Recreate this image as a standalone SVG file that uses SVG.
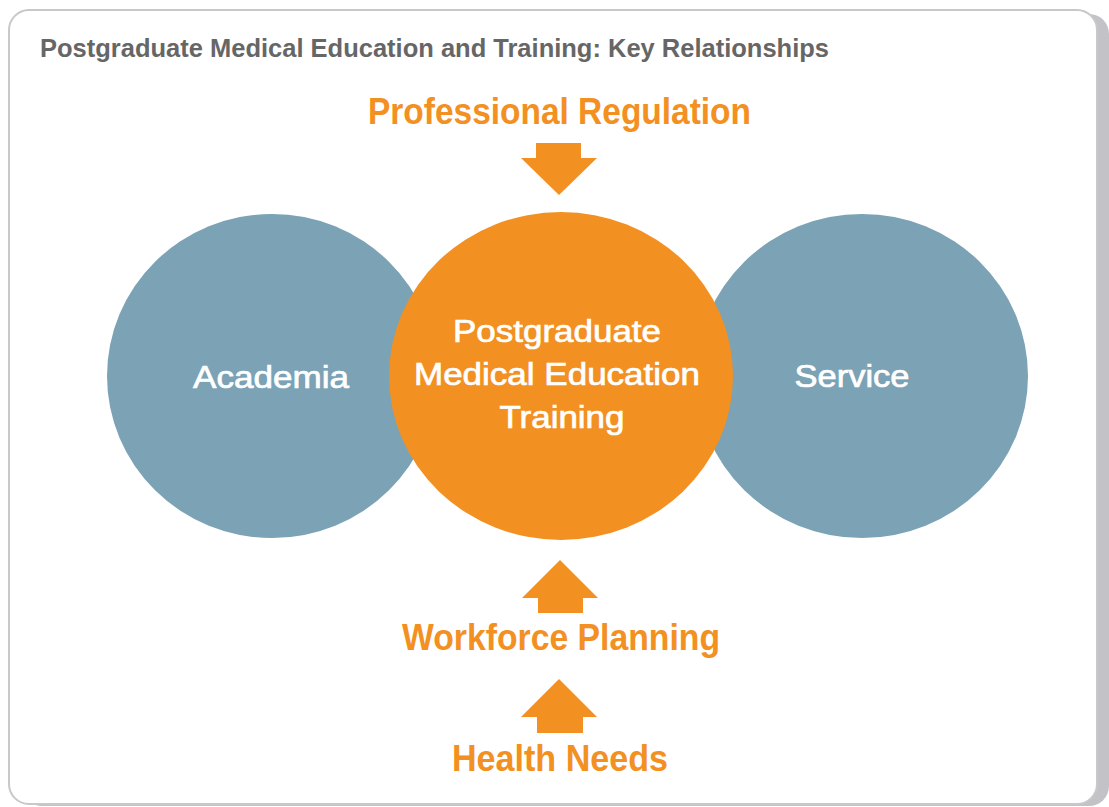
<svg xmlns="http://www.w3.org/2000/svg" width="1109" height="807" viewBox="0 0 1109 807">
<defs>
<style>
.orange{fill:#f39022}
.blue{fill:#7ba2b5}
.lbl{font-family:"Liberation Sans",Arial,sans-serif;font-weight:bold;fill:#f39022;font-size:36px;text-anchor:middle}
.wt{font-family:"Liberation Sans",Arial,sans-serif;fill:#ffffff;stroke:#ffffff;stroke-width:0.7;font-size:31px;text-anchor:middle}
</style>
</defs>
<rect width="1109" height="807" fill="#ffffff"/>
<g id="frame">
<rect x="22" y="14" width="1087" height="792" rx="20" fill="#c3c3c7"/>
<rect x="9" y="10" width="1088" height="794" rx="20" fill="#ffffff" stroke="#c8c8cc" stroke-width="2"/>
</g>
<text id="title" x="40" y="57" font-family="Liberation Sans, Arial, sans-serif" font-weight="bold" font-size="25" fill="#666666" textLength="789" lengthAdjust="spacingAndGlyphs">Postgraduate Medical Education and Training: Key Relationships</text>
<g id="academia">
<ellipse class="blue" cx="272" cy="376" rx="165" ry="162"/>
<text class="wt" x="271" y="388" textLength="156" lengthAdjust="spacingAndGlyphs">Academia</text>
</g>
<g id="service">
<ellipse class="blue" cx="862" cy="376" rx="166" ry="162"/>
<text class="wt" x="852" y="387" textLength="115" lengthAdjust="spacingAndGlyphs">Service</text>
</g>
<g id="pgmet">
<ellipse class="orange" cx="561" cy="376" rx="172" ry="164"/>
<text class="wt" x="557" y="342" textLength="208" lengthAdjust="spacingAndGlyphs">Postgraduate</text>
<text class="wt" x="557" y="385" textLength="286" lengthAdjust="spacingAndGlyphs">Medical Education</text>
<text class="wt" x="562" y="428" textLength="125" lengthAdjust="spacingAndGlyphs">Training</text>
</g>
<g id="professional-regulation">
<text class="lbl" x="559.5" y="124" textLength="383" lengthAdjust="spacingAndGlyphs">Professional Regulation</text>
</g>
<g id="workforce-planning">
<text class="lbl" x="561" y="650" textLength="318" lengthAdjust="spacingAndGlyphs">Workforce Planning</text>
</g>
<g id="health-needs">
<text class="lbl" x="560" y="771" textLength="216" lengthAdjust="spacingAndGlyphs">Health Needs</text>
</g>
<g id="connectors">
<polygon class="orange" points="536,143 581,143 581,158 597,158 559,195 521,158 536,158"/>
<polygon class="orange" points="560,560 598,598 583,598 583,613 538,613 538,598 522,598"/>
<polygon class="orange" points="559,679 597,717 583,717 583,733 537,733 537,717 521,717"/>
</g>
</svg>
